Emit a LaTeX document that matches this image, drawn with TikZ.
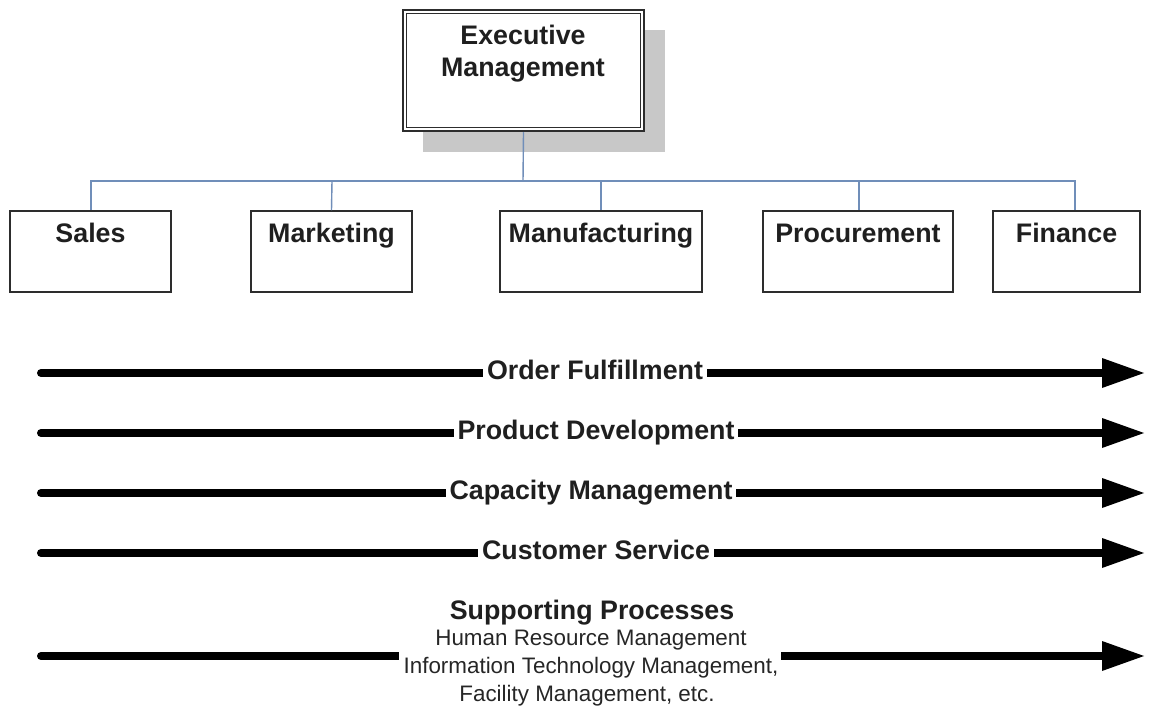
\documentclass[tikz,border=0pt]{standalone}
\usepackage{fontspec}
\setmainfont{Liberation Sans}
\usetikzlibrary{arrows.meta}
\definecolor{conn}{RGB}{112,142,185}
\definecolor{shadowgray}{RGB}{200,200,200}
\definecolor{boxline}{RGB}{45,45,45}
\tikzset{
  dept/.style={draw=boxline,line width=1.5pt,fill=white,minimum height=81pt,inner sep=0pt},
  boldtext/.style={font=\fontsize{26.8}{30}\selectfont\bfseries,text=black!88,inner sep=0pt,anchor=base},
  orgline/.style={draw=conn,line width=1.4pt},
  proc/.style={line width=8pt,line cap=round,-{Triangle[length=42pt,width=30pt,line width=0pt]}},
  proclabel/.style={boldtext,fill=white,inner xsep=4pt,inner ysep=2pt},
  smalltext/.style={font=\fontsize{22.4}{28}\selectfont,inner sep=0pt,text=black!85,anchor=base}
}
\begin{document}
\begin{tikzpicture}[x=1pt,y=-1pt]
\useasboundingbox (0,0) rectangle (1151,711);
% executive box
\fill[shadowgray] (423,30) rectangle (665,152);
\node[draw=boxline,line width=2.5pt,fill=white,minimum width=241pt,minimum height=121pt,inner sep=0pt] (exec) at (523.5,70.5) {};
\draw[boxline,line width=1.2pt] ([shift={(4.5pt,4.5pt)}]exec.south west) rectangle ([shift={(-4.5pt,-4.5pt)}]exec.north east);
\node[boldtext] (exect1) at (523,45) {Executive};
\node[boldtext] (exect2) at (523,77) {Management};
% departments
\node[dept,minimum width=161pt] (sales) at (90.5,251.5) {};
\node[dept,minimum width=161pt] (mkt) at (331.5,251.5) {};
\node[dept,minimum width=202pt] (mfg) at (601,251.5) {};
\node[dept,minimum width=190pt] (proc) at (858,251.5) {};
\node[dept,minimum width=147pt] (fin) at (1066.5,251.5) {};
\node[boldtext] (salest) at (90.5,243) {Sales};
\node[boldtext] (mktt) at (331.5,243) {Marketing};
\node[boldtext] (mfgt) at (601,243) {Manufacturing};
\node[boldtext] (proct) at (858,243) {Procurement};
\node[boldtext] (fint) at (1066.5,243) {Finance};
% org connectors
\coordinate (bus) at (523,181);
\draw[orgline] (exec.south) -- (bus);
\draw[orgline] (bus) -- (91,181) -- (sales.north -| 91,0);
\draw[orgline] (bus) -- (1075,181) -- (fin.north -| 1075,0);
\draw[orgline] (332,181) -- (mkt.north);
\draw[orgline] (601,181) -- (mfg.north);
\draw[orgline] (859,181) -- (proc.north -| 859,0);
% process arrows
\foreach \n/\y in {1/373,2/433,3/493,4/553,5/656}{
  \coordinate (s\n) at (41,\y);
  \coordinate (e\n) at (1144,\y);
  \draw[proc] (s\n) -- (e\n);
}
\node[proclabel] (l1) at (595,379) {Order Fulfillment};
\node[proclabel] (l2) at (596,439) {Product Development};
\node[proclabel] (l3) at (591,499) {Capacity Management};
\node[proclabel] (l4) at (596,559) {Customer Service};
\node[boldtext] (l5) at (592,619) {Supporting Processes};
\fill[white] (399,649) rectangle (781,663);
\node[smalltext] (l6) at (591,645) {Human Resource Management};
\node[smalltext] (l7) at (591,673) {Information Technology Management,};
\node[smalltext] (l8) at (587,701) {Facility Management, etc.};
\end{tikzpicture}
\end{document}
